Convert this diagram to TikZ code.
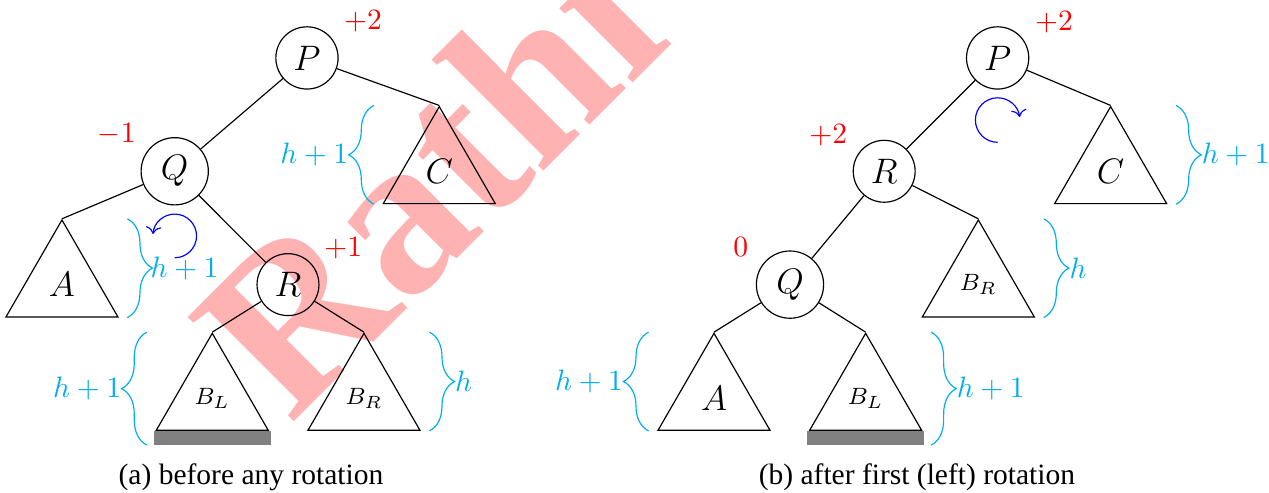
\documentclass[tikz,border=0pt]{standalone}
\usepackage{amsmath,amssymb}
\usepackage{fontspec}
\usepackage{xcolor}
\usetikzlibrary{positioning,arrows.meta,calc,shapes.geometric,decorations.pathreplacing}
\newfontfamily\capfont{Liberation Serif}
\definecolor{hcol}{RGB}{0,174,239}

\tikzset{
	vtx/.style={circle,draw,inner sep=3.1pt,font=\large},
	sub/.style={regular polygon,regular polygon sides=3,draw,minimum size=1.54cm,inner sep=0pt,font=\large},
	bal/.style={text=red},
	brc/.style={hcol,decorate,decoration={brace,amplitude=0.3cm}},
	hlab/.style={text=hcol,inner sep=0pt},
	rot/.style={blue,->},
	capt/.style={font=\capfont,inner sep=0pt},
	wmark/.style={text=red!30,inner sep=0pt,font=\capfont\bfseries\fontsize{77}{77}\selectfont},
}

\begin{document}
\begin{tikzpicture}
		
		\useasboundingbox (0,0) rectangle (15.114,5.86);
		\node[wmark,rotate=45,anchor=base west] (wm) at (3.45,0.79) {Rathi};
		
		% (a) before any rotation
		\node[vtx] (Pa) at (3.656,5.17) {$P$};
		\node[vtx] (Qa) at (2.081,3.82) {$Q$};
		\node[sub] (Ca) at (5.232,3.82) {$C$};
		\node[sub] (Aa) at (0.738,2.47) {$A$};
		\node[vtx] (Ra) at (3.430,2.47) {$R$};
		\node[sub,font=\footnotesize] (BLa) at (2.528,1.12) {$B_L$};
		\node[sub,font=\footnotesize] (BRa) at (4.335,1.12) {$B_R$};
		
		\draw (Pa) -- (Qa);
		\draw (Pa) -- (Ca.corner 1);
		\draw (Qa) -- (Aa.corner 1);
		\draw (Qa) -- (Ra);
		\draw (Ra) -- (BLa.corner 1);
		\draw (Ra) -- (BRa.corner 1);
		\fill[gray] ($(BLa.corner 2)+(-0.015,0)$) rectangle ($(BLa.corner 3)+(0.015,-0.17)$);
		
		\node[bal] (bPa) at ($(Pa)+(0.667,0.44)$) {$+2$};
		\node[bal] (bQa) at ($(Qa)+(-0.691,0.447)$) {$-1$};
		\node[bal] (bRa) at ($(Ra)+(0.659,0.428)$) {$+1$};
		
		\draw[brc] ($(Ca.corner 2)+(-0.1,0)$) -- ($(Ca.corner 2 |- Ca.corner 1)+(-0.1,0)$) node[hlab,midway,left=0.3cm] {$h+1$};
		\draw[brc] ($(Aa.corner 3 |- Aa.corner 1)+(0.1,0)$) -- ($(Aa.corner 3)+(0.1,0)$) node[hlab,midway,right=0.27cm] {$h+1$};
		\draw[brc] ($(BLa.corner 2)+(-0.1,-0.17)$) -- ($(BLa.corner 2 |- BLa.corner 1)+(-0.1,0)$) node[hlab,midway,left=0.3cm] {$h+1$};
		\draw[brc] ($(BRa.corner 3 |- BRa.corner 1)+(0.1,0)$) -- ($(BRa.corner 3)+(0.1,0)$) node[hlab,midway,right=0.3cm] {$h$};
		
		\coordinate (rotQ) at ($(Qa)+(0,-0.77)$);
		\draw[rot] (rotQ) ++(-90:0.26) arc[start angle=-90,end angle=175,radius=0.26];
		
		\node[capt,anchor=base] (capa) at (2.989,0.09) {(a) before any rotation};
		
		% (b) after first (left) rotation
		\node[vtx] (Pb) at (11.882,5.17) {$P$};
		\node[vtx] (Rb) at (10.531,3.82) {$R$};
		\node[sub] (Cb) at (13.228,3.82) {$C$};
		\node[vtx] (Qb) at (9.409,2.47) {$Q$};
		\node[sub,font=\footnotesize] (BRb) at (11.652,2.47) {$B_R$};
		\node[sub] (Ab) at (8.504,1.12) {$A$};
		\node[sub,font=\footnotesize] (BLb) at (10.310,1.12) {$B_L$};
		
		\draw (Pb) -- (Rb);
		\draw (Pb) -- (Cb.corner 1);
		\draw (Rb) -- (Qb);
		\draw (Rb) -- (BRb.corner 1);
		\draw (Qb) -- (Ab.corner 1);
		\draw (Qb) -- (BLb.corner 1);
		\fill[gray] ($(BLb.corner 2)+(-0.015,0)$) rectangle ($(BLb.corner 3)+(0.015,-0.17)$);
		
		\node[bal] (bPb) at ($(Pb)+(0.671,0.431)$) {$+2$};
		\node[bal] (bRb) at ($(Rb)+(-0.666,0.432)$) {$+2$};
		\node[bal] (bQb) at ($(Qb)+(-0.587,0.451)$) {$0$};
		
		\draw[brc] ($(Cb.corner 3 |- Cb.corner 1)+(0.1,0)$) -- ($(Cb.corner 3)+(0.1,0)$) node[hlab,midway,right=0.3cm] {$h+1$};
		\draw[brc] ($(BRb.corner 3 |- BRb.corner 1)+(0.1,0)$) -- ($(BRb.corner 3)+(0.1,0)$) node[hlab,midway,right=0.3cm] {$h$};
		\draw[brc] ($(BLb.corner 3 |- BLb.corner 1)+(0.1,0)$) -- ($(BLb.corner 3)+(0.1,-0.17)$) node[hlab,midway,right=0.3cm] {$h+1$};
		\draw[brc] ($(Ab.corner 2)+(-0.1,0)$) -- ($(Ab.corner 2 |- Ab.corner 1)+(-0.1,0)$) node[hlab,midway,left=0.3cm] {$h+1$};
		
		\coordinate (rotP) at ($(Pb)+(0,-0.74)$);
		\draw[rot] (rotP) ++(-90:0.265) arc[start angle=270,end angle=8,radius=0.265];
		
		\node[capt,anchor=base] (capb) at (10.921,0.09) {(b) after first (left) rotation};
		
	\end{tikzpicture}
\end{document}
